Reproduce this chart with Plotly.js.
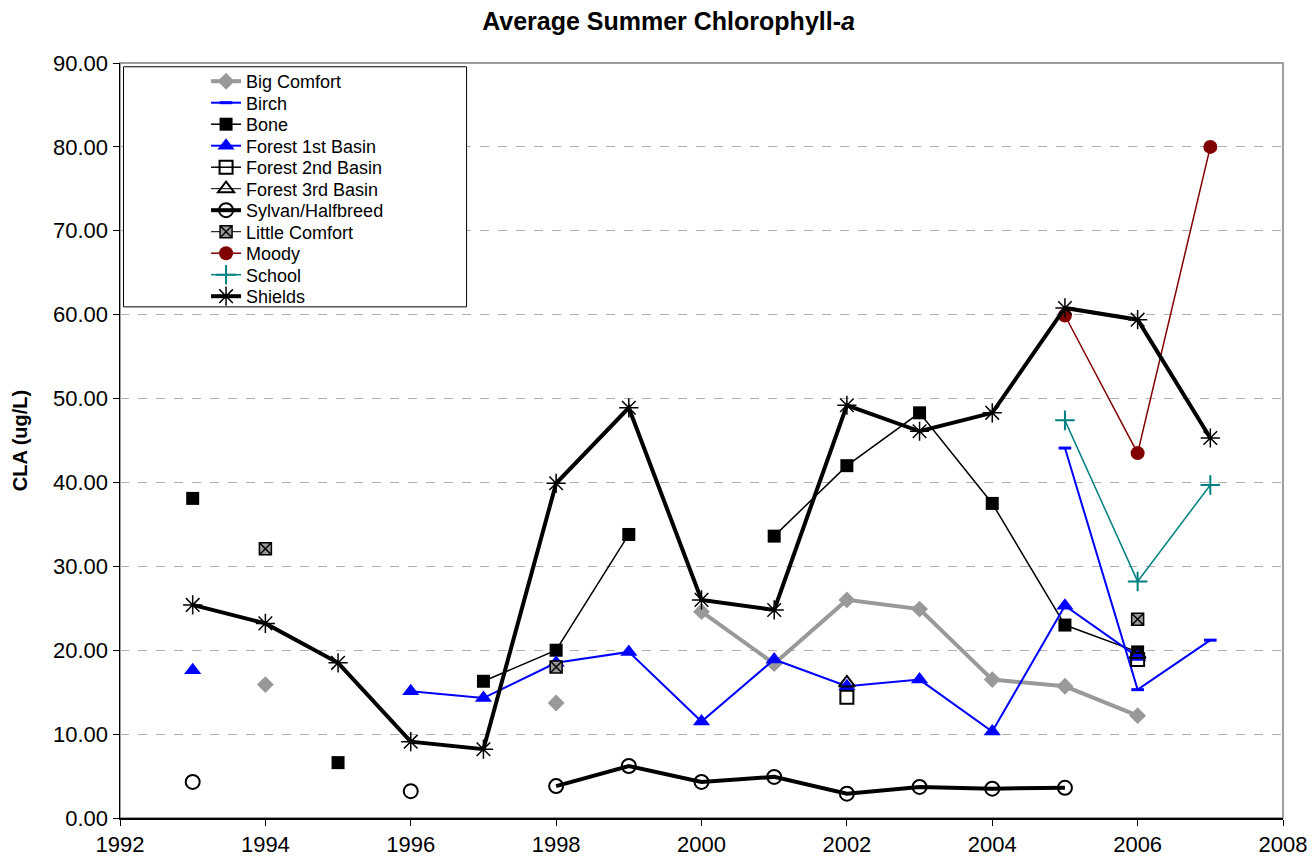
<!DOCTYPE html>
<html>
<head>
<meta charset="utf-8">
<script src="https://cdn.plot.ly/plotly-3.0.1.min.js"></script>
<style>
  html, body { margin: 0; padding: 0; background: #fff; }
  #plotArea { width: 1316px; height: 865px; }
</style>
</head>
<body>
<div id="plotArea"></div>
<script>
// years on the x axis
var years = [1993, 1994, 1995, 1996, 1997, 1998, 1999, 2000, 2001, 2002, 2003, 2004, 2005, 2006, 2007];

// lake values (null = no sample that year)
var bigComfort   = [null, 15.9, null, null, null, 13.7, null, 24.6, 18.4, 26.0, 24.9, 16.5, 15.7, 12.2, null];
var birch        = [null, null, null, null, null, null, null, null, null, null, null, null, 44.1, 15.3, 21.2];
var bone         = [38.1, null, 6.6, null, 16.3, 20.0, 33.8, null, 33.6, 42.0, 48.3, 37.5, 23.0, 19.8, null];
var forest1      = [17.6, null, null, 15.1, 14.3, 18.5, 19.8, 11.5, 18.9, 15.7, 16.5, 10.3, 25.3, 19.2, null];
var forest2      = [null, null, null, null, null, null, null, null, null, 14.4, null, null, null, 18.9, null];
var forest3      = [null, null, null, null, null, null, null, null, null, 16.1, null, null, null, 19.5, null];
var sylvan       = [4.3, null, null, 3.2, null, 3.8, 6.2, 4.3, 4.9, 2.9, 3.7, 3.5, 3.6, null, null];
var littleComfort= [null, 32.1, null, null, null, 18.0, null, null, null, null, null, null, null, 23.7, null];
var moody        = [null, null, null, null, null, null, null, null, null, null, null, null, 59.9, 43.5, 80.0];
var school       = [null, null, null, null, null, null, null, null, null, null, null, null, 47.4, 28.2, 39.7];
var shields      = [25.4, 23.2, 18.5, 9.1, 8.2, 39.9, 48.9, 26.0, 24.8, 49.2, 46.1, 48.3, 60.8, 59.4, 45.3];

function series(name, vals, lineColor, lineWidth, marker) {
    return {
        x: years,
        y: vals,
        name: name,
        type: "scatter",
        mode: "lines+markers",
        connectgaps: false,
        line: {color: lineColor, width: lineWidth},
        marker: marker,
        cliponaxis: false
    };
}

var traces = [
    series("Big Comfort", bigComfort, "#999999", 4, {symbol: "diamond", size: 13, color: "#999999"}),
    series("Birch", birch, "#0000ff", 2, {symbol: "line-ew", size: 9, line: {color: "#0000ff", width: 3}}),
    series("Bone", bone, "#000000", 1.5, {symbol: "square", size: 13, color: "#000000"}),
    series("Forest 1st Basin", forest1, "#0000ff", 2, {symbol: "triangle-up", size: 15, color: "#0000ff"}),
    series("Forest 2nd Basin", forest2, "#000000", 1.5, {symbol: "square-open", size: 13, color: "#000000", line: {width: 2}}),
    series("Forest 3rd Basin", forest3, "#000000", 1, {symbol: "triangle-up-open", size: 14, color: "#000000", line: {width: 2}}),
    series("Sylvan/Halfbreed", sylvan, "#000000", 4, {symbol: "circle-open", size: 14, color: "#000000", line: {width: 2}}),
    series("Little Comfort", littleComfort, "#000000", 1, {symbol: "square-x", size: 12, color: "#999999", line: {color: "#000000", width: 1.5}}),
    series("Moody", moody, "#800000", 1.5, {symbol: "circle", size: 14, color: "#800000"}),
    series("School", school, "#008080", 1.5, {symbol: "cross-thin", size: 14, line: {color: "#008080", width: 2}}),
    series("Shields", shields, "#000000", 4, {symbol: "asterisk", size: 16, line: {color: "#000000", width: 1.5}})
];

var layout = {
    width: 1316,
    height: 865,
    paper_bgcolor: "#ffffff",
    plot_bgcolor: "#ffffff",
    font: {family: "Liberation Sans, Arial, sans-serif", color: "#000000", size: 22},
    margin: {l: 120, r: 33, t: 63, b: 47},
    title: {
        text: "<b>Average Summer Chlorophyll-<i>a</i></b>",
        font: {size: 25},
        x: 0.508,
        xanchor: "center",
        y: 0.975,
        yanchor: "middle"
    },
    xaxis: {
        range: [1992, 2008],
        dtick: 2,
        tick0: 1992,
        ticks: "outside",
        ticklen: 6,
        tickcolor: "#000000",
        showgrid: false,
        zeroline: false,
        showline: true,
        linecolor: "#000000",
        linewidth: 1.5,
        tickfont: {size: 22}
    },
    yaxis: {
        range: [0, 90],
        dtick: 10,
        tickformat: ".2f",
        ticks: "outside",
        ticklen: 6,
        tickcolor: "#000000",
        showgrid: true,
        gridcolor: "#b0b0b0",
        griddash: "dash",
        gridwidth: 1,
        zeroline: false,
        showline: true,
        linecolor: "#000000",
        linewidth: 1.5,
        tickfont: {size: 22},
        title: {text: "<b>CLA (ug/L)</b>", font: {size: 20}, standoff: 20}
    },
    showlegend: true,
    legend: {
        x: 0.074,
        y: 1.0,
        xanchor: "left",
        yanchor: "top",
        bgcolor: "rgba(0,0,0,0)",
        borderwidth: 0,
        font: {size: 18},
        tracegroupgap: 0,
        itemclick: false
    },
    shapes: [
        // grey plot frame (top/right edges)
        {type: "rect", xref: "paper", yref: "paper", x0: 0, x1: 1, y0: 0, y1: 1,
         line: {color: "#808080", width: 1.5}, layer: "below"},
        // legend box
        {type: "rect", xref: "paper", yref: "paper", x0: 0.003, x1: 0.298, y0: 0.677, y1: 0.995,
         line: {color: "#000000", width: 1}, fillcolor: "#ffffff", layer: "above"}
    ]
};

Plotly.newPlot("plotArea", traces, layout, {staticPlot: true, displayModeBar: false}).then(function(gd) {
    // tighten legend rows to match the Excel legend spacing
    var rows = gd.querySelectorAll(".legend .traces");
    var first = null;
    rows.forEach(function(row, i) {
        var m = /translate\(([-\d.]+),\s*([-\d.]+)\)/.exec(row.getAttribute("transform") || "");
        if (!m) return;
        if (first === null) first = parseFloat(m[2]);
        row.setAttribute("transform", "translate(" + m[1] + "," + (first + i * 21.5) + ")");
    });
});
</script>
</body>
</html>
